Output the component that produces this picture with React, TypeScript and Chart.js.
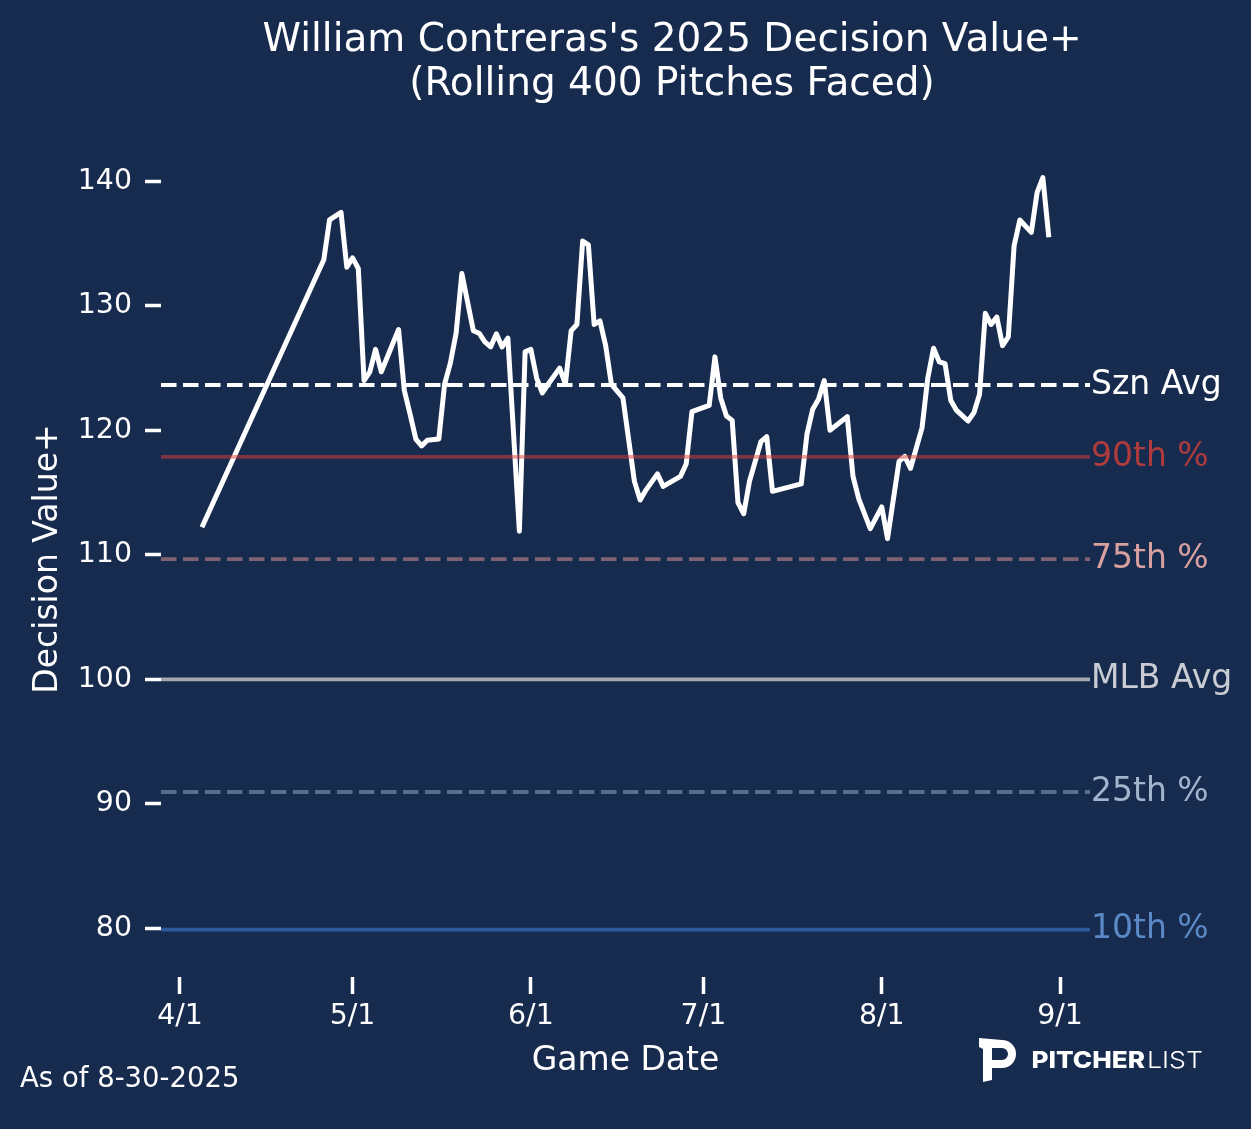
import React, { useEffect, useRef } from "react";
import { Chart, registerables } from "chart.js";

Chart.register(...registerables);
Chart.defaults.font.family = "'DejaVu Sans', sans-serif";

// ---- data ----
const gameDates = [
  "4/5", "4/26", "4/27", "4/29", "4/30", "5/1", "5/2", "5/3", "5/4", "5/5", "5/6", "5/9", "5/10",
  "5/11", "5/12", "5/13", "5/14", "5/16", "5/17", "5/18", "5/19", "5/20", "5/22", "5/23", "5/24",
  "5/25", "5/26", "5/27", "5/28", "5/30", "5/31", "6/1", "6/2", "6/3", "6/4", "6/6", "6/7", "6/8",
  "6/9", "6/10", "6/11", "6/12", "6/13", "6/14", "6/15", "6/17", "6/19", "6/20", "6/21", "6/23",
  "6/24", "6/27", "6/28", "6/29", "7/2", "7/3", "7/4", "7/5", "7/6", "7/7", "7/8", "7/9", "7/11",
  "7/12", "7/13", "7/18", "7/19", "7/20", "7/21", "7/22", "7/23", "7/26", "7/27", "7/28", "7/30",
  "8/1", "8/2", "8/4", "8/5", "8/6", "8/8", "8/9", "8/10", "8/11", "8/12", "8/13", "8/14", "8/16",
  "8/17", "8/18", "8/19", "8/20", "8/21", "8/22", "8/23", "8/24", "8/25", "8/27", "8/28", "8/29",
  "8/30",
];
const decisionValues = [
  112.4, 133.7, 136.9, 137.5, 133.1, 133.85, 133.0, 124.0, 124.7, 126.5, 124.7, 128.1, 123.2,
  121.3, 119.3, 118.75, 119.2, 119.3, 123.7, 125.4, 127.8, 132.6, 128.0, 127.8, 127.1,
  126.7, 127.75, 126.7, 127.4, 111.9, 126.3, 126.5, 124.2, 123.0, 123.7, 125.0, 123.7, 128.0,
  128.5, 135.2, 134.9, 128.5, 128.8, 126.8, 123.7, 122.6, 115.9, 114.4, 115.2, 116.5,
  115.5, 116.3, 117.3, 121.5, 122.0, 125.9, 122.6, 121.15, 120.8, 114.2, 113.3, 115.9, 119.1,
  119.5, 115.1, 115.7, 119.7, 121.7, 122.5, 124.0, 120.0, 121.1, 116.3, 114.5, 112.1,
  113.85, 111.3, 117.5, 117.9, 116.95, 120.2, 124.2, 126.6, 125.5, 125.35, 122.4, 121.6, 120.75,
  121.4, 122.9, 129.4, 128.5, 129.1, 126.8, 127.5, 134.8, 136.9, 135.9, 139.1, 140.3,
  135.7,
];

const xTickDates = ["4/1", "5/1", "6/1", "7/1", "8/1", "9/1"];
const yTickValues = [80, 90, 100, 110, 120, 130, 140];

const refLabels = ["Szn Avg", "90th %", "75th %", "MLB Avg", "25th %", "10th %"];
const refValues = [123.64, 117.86, 109.66, 100, 90.95, 79.9];

const titleLines = ["William Contreras's 2025 Decision Value+", "(Rolling 400 Pitches Faced)"];
const xAxisTitle = "Game Date";
const yAxisTitle = "Decision Value+";
const asOfText = "As of 8-30-2025";
const logoBold = "PITCHER";
const logoLight = "LIST";

// ---- styles ----
const BG = "#172b4f";
const refLineColors = ["#ffffff", "rgba(223,61,53,0.5)", "#7e6373", "#a3a7ae", "#566f8f", "#2d5a99"];
const refTextColors = ["#ffffff", "#b03b3d", "#d9a0a0", "#c9cdd3", "#a3b5cc", "#5a89c6"];
const refDashed = [true, false, true, false, true, false];

const X_MIN = 87.7;
const X_MAX = 249.2;
const Y_MIN = 76.09;
const Y_MAX = 143.24;

const monthStart: Record<number, number> = { 3: 59, 4: 90, 5: 120, 6: 151, 7: 181, 8: 212, 9: 243 };
function dayOfYear(md: string): number {
  const [m, d] = md.split("/").map(Number);
  return monthStart[m] + d;
}

const decorPlugin = {
  id: "decor",
  beforeDraw(chart: any) {
    const ctx = chart.ctx;
    ctx.save();
    ctx.fillStyle = BG;
    ctx.fillRect(0, 0, chart.width, chart.height);
    ctx.restore();
  },
  afterDraw(chart: any) {
    const ctx = chart.ctx;
    const ys = chart.scales.y;
    const area = chart.chartArea;
    ctx.save();
    // title
    ctx.fillStyle = "#ffffff";
    ctx.font = "39px 'DejaVu Sans'";
    ctx.textAlign = "center";
    ctx.textBaseline = "alphabetic";
    ctx.fillText(titleLines[0], 672, 50.7);
    ctx.fillText(titleLines[1], 672, 95);

    // right-side reference labels
    ctx.font = "33px 'DejaVu Sans'";
    ctx.textAlign = "left";
    ctx.textBaseline = "middle";
    refLabels.forEach((t, i) => {
      ctx.fillStyle = refTextColors[i];
      ctx.fillText(t, area.right + 1, ys.getPixelForValue(refValues[i]) + 0.3);
    });

    // as of
    ctx.font = "27.5px 'DejaVu Sans'";
    ctx.fillStyle = "#ffffff";
    ctx.textBaseline = "alphabetic";
    ctx.fillText(asOfText, 20, 1087);

    // logo mark
    ctx.fillStyle = "#ffffff";
    ctx.beginPath();
    ctx.moveTo(979, 1038);
    ctx.lineTo(1002, 1040);
    ctx.arc(1002, 1054, 14, -Math.PI / 2, Math.PI / 2, false);
    ctx.lineTo(992, 1068);
    ctx.lineTo(992, 1080);
    ctx.lineTo(983, 1082);
    ctx.lineTo(983, 1049);
    ctx.lineTo(979, 1047);
    ctx.closePath();
    ctx.moveTo(992, 1048);
    ctx.lineTo(1002, 1048);
    ctx.arc(1002, 1054, 6, -Math.PI / 2, Math.PI / 2, false);
    ctx.lineTo(992, 1060);
    ctx.closePath();
    ctx.fill("evenodd");

    // logo text
    ctx.textAlign = "left";
    ctx.font = "800 23px Inter, 'Open Sans', sans-serif";
    const w1 = ctx.measureText(logoBold).width;
    ctx.save();
    ctx.translate(1031.5, 1068.3);
    ctx.scale(113.5 / w1, 1);
    ctx.fillText(logoBold, 0, 0);
    ctx.restore();
    ctx.font = "300 23px Inter, 'Open Sans', sans-serif";
    const w2 = ctx.measureText(logoLight).width;
    ctx.save();
    ctx.translate(1147, 1068.3);
    ctx.scale(56 / w2, 1);
    ctx.fillText(logoLight, 0, 0);
    ctx.restore();

    ctx.restore();
  },
};

export default function App() {
  const canvasRef = useRef<HTMLCanvasElement | null>(null);

  useEffect(() => {
    document.body.style.margin = "0";
    document.body.style.background = BG;
    const canvas = canvasRef.current;
    if (!canvas) return;

    const refDatasets = refValues.map((v, i) => ({
      data: [
        { x: X_MIN, y: v },
        { x: X_MAX, y: v },
      ],
      borderColor: refLineColors[i],
      borderWidth: 3.8,
      borderDash: refDashed[i] ? [15.5, 6.5] : [],
      borderCapStyle: "butt",
      pointRadius: 0,
      order: 0,
    }));

    const mainDataset = {
      data: gameDates.map((d, i) => ({ x: dayOfYear(d), y: decisionValues[i] })),
      borderColor: "#ffffff",
      borderWidth: 5,
      borderJoinStyle: "round",
      borderCapStyle: "square",
      pointRadius: 0,
      tension: 0,
      order: 1,
    };

    const tickGrid = (len: number) => ({
      display: true,
      drawOnChartArea: false,
      drawTicks: true,
      tickLength: len,
      tickWidth: 3.5,
      tickColor: "#ffffff",
    });

    const chart = new Chart(canvas, {
      type: "line",
      data: { datasets: [...refDatasets, mainDataset] as any },
      options: {
        responsive: false,
        animation: false,
        devicePixelRatio: 1,
        events: [],
        layout: { padding: { left: 0, top: 141, right: 161, bottom: 0 } },
        plugins: {
          legend: { display: false },
          tooltip: { enabled: false },
          title: { display: false },
        },
        scales: {
          x: {
            type: "linear",
            position: "bottom",
            min: X_MIN,
            max: X_MAX,
            afterFit: (s: any) => {
              s.height = 152;
            },
            afterBuildTicks: (s: any) => {
              s.ticks = xTickDates.map((d) => ({ value: dayOfYear(d) }));
            },
            ticks: {
              callback: (_v: any, i: number) => xTickDates[i],
              color: "#ffffff",
              font: { size: 28.4 },
              padding: 6,
              maxRotation: 0,
              autoSkip: false,
            },
            grid: tickGrid(17),
            border: { display: false },
            title: {
              display: true,
              text: xAxisTitle,
              color: "#ffffff",
              font: { size: 33 },
              padding: { top: 0, bottom: 48 },
            },
          },
          y: {
            type: "linear",
            position: "left",
            min: Y_MIN,
            max: Y_MAX,
            afterFit: (s: any) => {
              s.width = 161;
            },
            afterBuildTicks: (s: any) => {
              s.ticks = yTickValues.map((v) => ({ value: v }));
            },
            ticks: {
              callback: (v: any) => String(v),
              color: "#ffffff",
              font: { size: 28.4 },
              padding: 13,
            },
            grid: tickGrid(16),
            border: { display: false },
            title: {
              display: true,
              text: yAxisTitle,
              color: "#ffffff",
              font: { size: 33 },
              padding: { top: 29, bottom: 0 },
            },
          },
        },
      } as any,
      plugins: [decorPlugin],
    });

    return () => chart.destroy();
  }, []);

  return (
    <div style={{ position: "absolute", left: 0, top: 0, width: 1251, height: 1129, background: BG }}>
      <canvas ref={canvasRef} width={1251} height={1129} style={{ display: "block", width: 1251, height: 1129 }} />
    </div>
  );
}
